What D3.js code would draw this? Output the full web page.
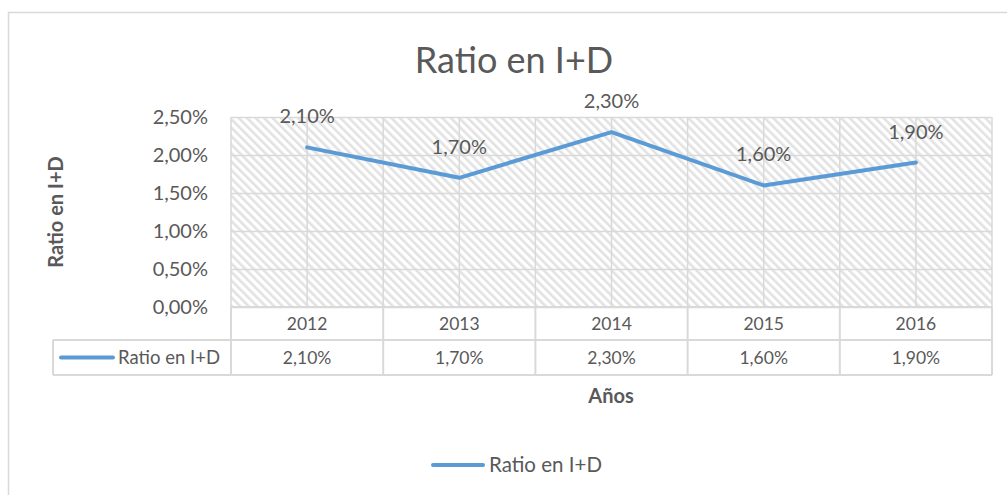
<!DOCTYPE html>
<html><head><meta charset="utf-8">
<script src="https://cdn.jsdelivr.net/npm/d3@7"></script>
<style>body{margin:0;background:#fff}svg{display:block}text{font-family:Lato,"Open Sans",sans-serif;fill:#595959}</style>
</head><body>
<svg id="c" width="1007" height="495"></svg>
<script>
const years = ["2012","2013","2014","2015","2016"];
const values = [0.021,0.017,0.023,0.016,0.019];
const yTicks = [0,0.005,0.01,0.015,0.02,0.025];
const seriesName = "Ratio en I+D";
const titleText = "Ratio en I+D";
const xTitle = "Años";
const yTitle = "Ratio en I+D";

const svg = d3.select("#c");
const W=1007,H=495;
const L=231,R=992,T=117,B=307, row1=340,row2=375, tableLeft=53;
const grid="#d9d9d9", blue="#5B9BD5";
const fmt = v => d3.format(".2f")(v*100).replace(".",",")+"%";

// outer border
svg.append("path").attr("d",`M8.5,${H} V12.5 H${W}`).attr("fill","none").attr("stroke",grid).attr("stroke-width",1.5);

// hatch pattern (wide downward diagonal)
const defs=svg.append("defs");
const pat=defs.append("pattern").attr("id","hatch").attr("patternUnits","userSpaceOnUse")
 .attr("width",6).attr("height",6).attr("patternTransform","rotate(-45)");
pat.append("rect").attr("width",6).attr("height",6).attr("fill","#fff");
pat.append("rect").attr("x",0).attr("y",0).attr("width",2.6).attr("height",6).attr("fill","#e2e2e2");

const x = d3.scaleBand().domain(years).range([L,R]).padding(0);
const y = d3.scaleLinear().domain([0,0.025]).range([B,T]);

svg.append("rect").attr("x",L).attr("y",T).attr("width",R-L).attr("height",B-T).attr("fill","url(#hatch)");

// horizontal gridlines
svg.append("g").selectAll("line").data(yTicks).join("line")
 .attr("x1",L).attr("x2",R).attr("y1",d=>Math.round(y(d))+0.5).attr("y2",d=>Math.round(y(d))+0.5)
 .attr("stroke",grid).attr("stroke-width",1.5);
// vertical gridlines (boundaries + centers)
const vx=[];
years.forEach(d=>{vx.push(x(d)); vx.push(x(d)+x.bandwidth()/2);}); vx.push(R);
svg.append("g").selectAll("line").data(vx).join("line")
 .attr("x1",d=>d).attr("x2",d=>d).attr("y1",T).attr("y2",B)
 .attr("stroke",grid).attr("stroke-width",1.5);

// data table
const tg=svg.append("g").attr("stroke",grid).attr("stroke-width",2);
tg.append("line").attr("x1",L).attr("x2",R).attr("y1",B).attr("y2",B);
tg.append("line").attr("x1",tableLeft).attr("x2",R).attr("y1",row1).attr("y2",row1);
tg.append("line").attr("x1",tableLeft).attr("x2",R).attr("y1",row2).attr("y2",row2);
tg.append("line").attr("x1",tableLeft).attr("x2",tableLeft).attr("y1",row1).attr("y2",row2);
tg.selectAll(".v").data(years.map(d=>x(d)).concat([R])).join("line")
 .attr("x1",d=>d).attr("x2",d=>d).attr("y1",B).attr("y2",row2);

svg.append("g").selectAll("text").data(years).join("text")
 .attr("x",d=>x(d)+x.bandwidth()/2).attr("y",(B+row1)/2+6).attr("text-anchor","middle")
 .attr("font-size",17.5).text(d=>d);
svg.append("g").selectAll("text").data(values).join("text")
 .attr("x",(d,i)=>x(years[i])+x.bandwidth()/2).attr("y",(row1+row2)/2+6).attr("text-anchor","middle")
 .attr("font-size",17.5).text(fmt);
svg.append("line").attr("x1",61).attr("x2",113).attr("y1",357.5).attr("y2",357.5)
 .attr("stroke",blue).attr("stroke-width",4).attr("stroke-linecap","round");
svg.append("text").attr("x",118).attr("y",364).attr("font-size",18.5).text(seriesName);

// y tick labels
svg.append("g").selectAll("text").data(yTicks).join("text")
 .attr("x",208).attr("y",d=>y(d)+7).attr("text-anchor","end").attr("font-size",20).text(fmt);

// line
const line=d3.line().x((d,i)=>x(years[i])+x.bandwidth()/2).y(d=>y(d));
svg.append("path").datum(values).attr("d",line).attr("fill","none").attr("stroke",blue)
 .attr("stroke-width",4).attr("stroke-linejoin","round").attr("stroke-linecap","round");

// data labels
svg.append("g").selectAll("text").data(values).join("text")
 .attr("x",(d,i)=>x(years[i])+x.bandwidth()/2).attr("y",d=>y(d)-24).attr("text-anchor","middle")
 .attr("font-size",20).text(fmt);

// titles
svg.append("text").attr("x",514).attr("y",73).attr("text-anchor","middle").attr("font-size",36).text(titleText);
svg.append("text").attr("x",611).attr("y",403).attr("text-anchor","middle").attr("font-size",20).attr("font-weight","bold").text(xTitle);
svg.append("text").attr("transform","translate(63,212) rotate(-90)").attr("text-anchor","middle").attr("font-size",20).attr("font-weight","bold").text(yTitle);

// legend
svg.append("line").attr("x1",433).attr("x2",483).attr("y1",465).attr("y2",465)
 .attr("stroke",blue).attr("stroke-width",4).attr("stroke-linecap","round");
svg.append("text").attr("x",489).attr("y",472).attr("font-size",20.5).text(seriesName);
</script>
</body></html>
